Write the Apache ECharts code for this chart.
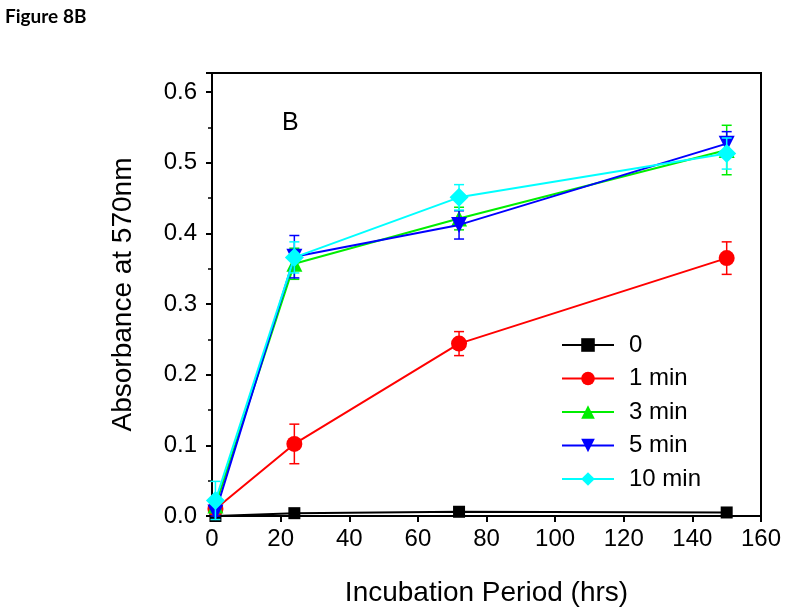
<!DOCTYPE html>
<html>
<head>
<meta charset="utf-8">
<title>Figure 8B</title>
<script src="https://cdn.jsdelivr.net/npm/echarts@6/dist/echarts.min.js"></script>
<style>
	html, body { margin: 0; padding: 0; background: #fff; }
	#main { width: 787px; height: 615px; }
</style>
</head>
<body>
<div id="main"></div>
<script>
/*数据*/
var hours = [1, 24, 72, 150];
var seriesNames = ['0', '1 min', '3 min', '5 min', '10 min'];
var absorb0 = [0.000, 0.004, 0.006, 0.005];
var absorb1 = [0.010, 0.102, 0.244, 0.365];
var absorb3 = [0.015, 0.357, 0.421, 0.518];
var absorb5 = [0.005, 0.367, 0.412, 0.527];
var absorb10 = [0.022, 0.366, 0.451, 0.513];
var err0 = [0, 0, 0, 0];
var err1 = [0.005, 0.028, 0.017, 0.023];
var err3 = [0.010, 0.022, 0.016, 0.035];
var err5 = [0.005, 0.030, 0.020, 0.017];
var err10 = [0.027, 0.022, 0.018, 0.022];
var xTicks = [0, 20, 40, 60, 80, 100, 120, 140, 160];
var yTicks = [0.0, 0.1, 0.2, 0.3, 0.4, 0.5, 0.6];

var values = [absorb0, absorb1, absorb3, absorb5, absorb10];
var errors = [err0, err1, err3, err5, err10];
var colors = ['#000000', '#ff0000', '#00ee00', '#0000ff', '#00ffff'];
var symbols = ['rect', 'circle', 'triangle', 'path://M0,0 L10,0 L5,10 Z', 'diamond'];
var symbolSizes = [12, 16, 16, 16, 19];

function pairs(ys) {
	var out = [];
	for(var i = 0; i < hours.length; i++) {
		out.push([hours[i], ys[i]]);
	}
	return out;
}

function triples(ys, es) {
	var out = [];
	for(var i = 0; i < hours.length; i++) {
		out.push([hours[i], ys[i], es[i]]);
	}
	return out;
}

/*误差线*/
function errorBarItem(params, api) {
	var x = api.value(0), y = api.value(1), e = api.value(2);
	if(!e) return null;
	var hi = api.coord([x, y + e]);
	var lo = api.coord([x, y - e]);
	var w = 5;
	var st = { stroke: api.visual('color'), lineWidth: 1.5 };
	return {
		type: 'group',
		children: [
			{ type: 'line', shape: { x1: hi[0], y1: hi[1], x2: lo[0], y2: lo[1] }, style: st },
			{ type: 'line', shape: { x1: hi[0] - w, y1: hi[1], x2: hi[0] + w, y2: hi[1] }, style: st },
			{ type: 'line', shape: { x1: lo[0] - w, y1: lo[1], x2: lo[0] + w, y2: lo[1] }, style: st }
		]
	};
}

var series = [];
for(var k = 0; k < seriesNames.length; k++) {
	series.push({
		name: seriesNames[k] + '_err',
		type: 'custom',
		renderItem: errorBarItem,
		itemStyle: { color: colors[k] },
		data: triples(values[k], errors[k]),
		encode: { x: 0, y: 1 },
		z: 2 + k * 2,
		silent: true
	});
	series.push({
		name: seriesNames[k],
		type: 'line',
		data: pairs(values[k]),
		symbol: symbols[k],
		symbolSize: symbolSizes[k],
		showAllSymbol: true,
		color: colors[k],
		lineStyle: { color: colors[k], width: 2 },
		itemStyle: { color: colors[k] },
		z: 3 + k * 2,
		animation: false
	});
}

var chart = echarts.init(document.getElementById('main'));
chart.setOption({
	animation: false,
	backgroundColor: '#fff',
	textStyle: { fontFamily: 'Liberation Sans, Arial, sans-serif' },
	grid: {
		left: 212, right: 26, top: 73, bottom: 99,
		show: true, borderColor: '#000', borderWidth: 2
	},
	graphic: [
		{ type: 'text', left: 5, top: 7, style: { text: 'Figure 8B', font: 'bold 19px Lato, "Open Sans", sans-serif', fill: '#000' } },
		{ type: 'text', left: 282, top: 111, style: { text: 'B', font: '25px "Liberation Sans", Arial, sans-serif', fill: '#000' } }
	],
	legend: {
		data: seriesNames,
		orient: 'vertical',
		left: 561,
		top: 333,
		padding: 0,
		itemWidth: 52,
		itemHeight: 17,
		itemGap: 9.5,
		textStyle: { fontSize: 24, lineHeight: 23, color: '#000', padding: [0, 0, 0, 10] }
	},
	xAxis: {
		type: 'value',
		min: xTicks[0],
		max: xTicks[xTicks.length - 1],
		interval: 20,
		name: 'Incubation Period (hrs)',
		nameLocation: 'middle',
		nameGap: 63,
		nameTextStyle: { fontSize: 28, color: '#000' },
		axisLine: { show: true, onZero: false, lineStyle: { color: '#000', width: 2 } },
		axisTick: { show: true, length: 6, lineStyle: { color: '#000', width: 2 } },
		axisLabel: { fontSize: 24, color: '#000', margin: 11 },
		splitLine: { show: false }
	},
	yAxis: {
		type: 'value',
		min: yTicks[0],
		max: 0.627,
		interval: 0.1,
		name: 'Absorbance at 570nm',
		nameLocation: 'middle',
		nameGap: 75,
		nameTextStyle: { fontSize: 28, color: '#000' },
		axisLine: { show: true, onZero: false, lineStyle: { color: '#000', width: 2 } },
		axisTick: { show: true, length: 6, lineStyle: { color: '#000', width: 2 } },
		minorTick: { show: true, splitNumber: 2, length: 4, lineStyle: { color: '#000', width: 1.5 } },
		axisLabel: {
			fontSize: 24, color: '#000', margin: 15, showMaxLabel: false,
			formatter: function(v) { return v.toFixed(1); }
		},
		splitLine: { show: false }
	},
	series: series
});
</script>
</body>
</html>
